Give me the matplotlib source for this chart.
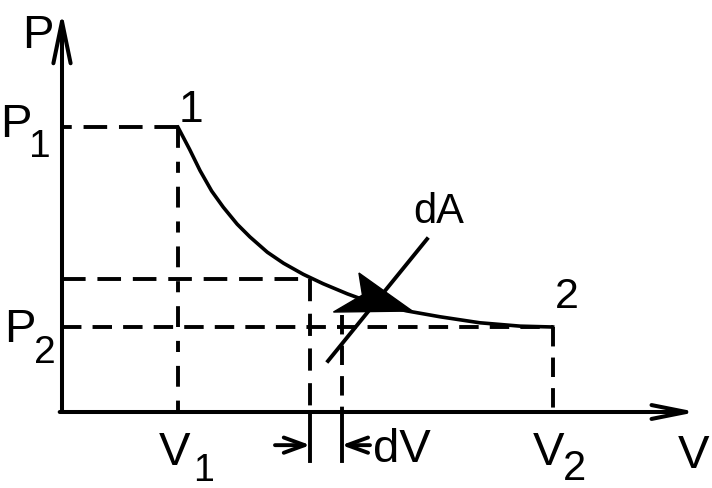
import matplotlib.pyplot as plt
from matplotlib.patches import Polygon

plt.rcParams['font.family'] = ['Liberation Sans', 'DejaVu Sans']
plt.rcParams['lines.scale_dashes'] = False

# state points (V in units of V1, P in units of P2)
V1, V2 = 1.0, 4.23
P1, P2 = 3.35, 1.0
Va, Vb = 2.14, 2.41      # the thin strip dV
Pa = 1.57                # pressure on the curve at Va
V_max, P_max = 5.47, 4.71

# expansion curve 1 -> 2
V_curve = [1.0, 1.10, 1.19, 1.29, 1.39, 1.51, 1.62, 1.77, 1.91, 2.08,
           2.25, 2.46, 2.66, 2.97, 3.26, 3.60, 3.95, 4.23]
P_curve = [3.35, 3.09, 2.84, 2.60, 2.41, 2.21, 2.06, 1.88, 1.75, 1.62,
           1.51, 1.39, 1.29, 1.19, 1.12, 1.05, 1.01, 1.0]

# black wedge marking dA, and its leader line
wedge_V = [2.56, 2.59, 2.34, 3.02]
wedge_P = [1.635, 1.376, 1.176, 1.188]
leader_V = [3.147, 2.293]
leader_P = [2.035, 0.60]

dV_level = -0.39
tick_bottom = -0.58

# pixel -> data helper, only used to place the labels
X0, Y0, SX, SY = 62, 413, 116.0, 85.0


def px(x, y):
    return (x - X0) / SX, (Y0 - y) / SY


fig = plt.figure(figsize=(7.12, 4.89), dpi=100)
ax = fig.add_axes([0, 0, 1, 1])
ax.set_xlim(px(0, 0)[0], px(712, 0)[0])
ax.set_ylim(px(0, 489)[1], px(0, 0)[1])
ax.axis('off')

lw = 2.8
dash = (17, 8.5)
arrow = dict(color='k', shrinkA=0, shrinkB=0, mutation_scale=10)

# axes with open arrowheads
ax.annotate('', xy=(0, P_max), xytext=(0, 0),
            arrowprops=dict(arrowstyle='->,head_length=3.0,head_width=0.62',
                            lw=2.9, **arrow))
ax.annotate('', xy=(V_max, 0), xytext=(-0.02, 0),
            arrowprops=dict(arrowstyle='->,head_length=2.5,head_width=0.5',
                            lw=2.9, **arrow))

# guide lines
ax.plot([V1, 0], [P1, P1], color='k', lw=lw, dashes=dash)
ax.plot([V1, V1], [P1, 0], color='k', lw=lw, dashes=(15, 10, 8, 10))
ax.plot([0, Va], [Pa, Pa], color='k', lw=lw, dashes=dash)
ax.plot([0, V2], [P2, P2], color='k', lw=lw, dashes=(14, 8))
ax.plot([V2, V2], [P2, 0], color='k', lw=lw, dashes=(14, 8))
ax.plot([Va, Va], [Pa, 0], color='k', lw=lw, dashes=(16, 9))
ax.plot([Vb, Vb], [1.14, 0], color='k', lw=lw, dashes=(14, 8))
ax.plot([Va, Va], [0, tick_bottom], color='k', lw=lw)
ax.plot([Vb, Vb], [0, tick_bottom], color='k', lw=lw)

# process curve
ax.plot(V_curve, P_curve, color='k', lw=2.6, solid_joinstyle='round')

# dA wedge and leader
ax.add_patch(Polygon(list(zip(wedge_V, wedge_P)), closed=True,
                     facecolor='k', edgecolor='k', lw=1))
ax.plot(leader_V, leader_P, color='k', lw=lw)

# dV arrows
ax.annotate('', xy=(Va, dV_level), xytext=(px(275, 0)[0], dV_level),
            arrowprops=dict(arrowstyle='->,head_length=1.5,head_width=0.55',
                            lw=lw, **arrow))
ax.annotate('', xy=(Vb, dV_level), xytext=(px(370, 0)[0], dV_level),
            arrowprops=dict(arrowstyle='->,head_length=1.5,head_width=0.55',
                            lw=lw, **arrow))

# labels
big, sub = 34, 28
labels = [
    ('P', (22, 48), big), ('P', (0, 137), big), ('1', (29, 157), sub),
    ('1', (179, 122), 32), ('P', (4, 342), big), ('2', (34, 363), sub),
    ('V', (159, 465), big), ('1', (193, 481), 27), ('dV', (373, 462), big),
    ('V', (533, 465), big), ('2', (563, 480), 30), ('V', (678, 468), big),
    ('2', (555, 308), 31), ('dA', (413, 223), 30),
]
for s, (x, y), fs in labels:
    ax.text(*px(x, y), s, fontsize=fs, ha='left', va='baseline')

fig.savefig('out.png', dpi=100, facecolor='white')
